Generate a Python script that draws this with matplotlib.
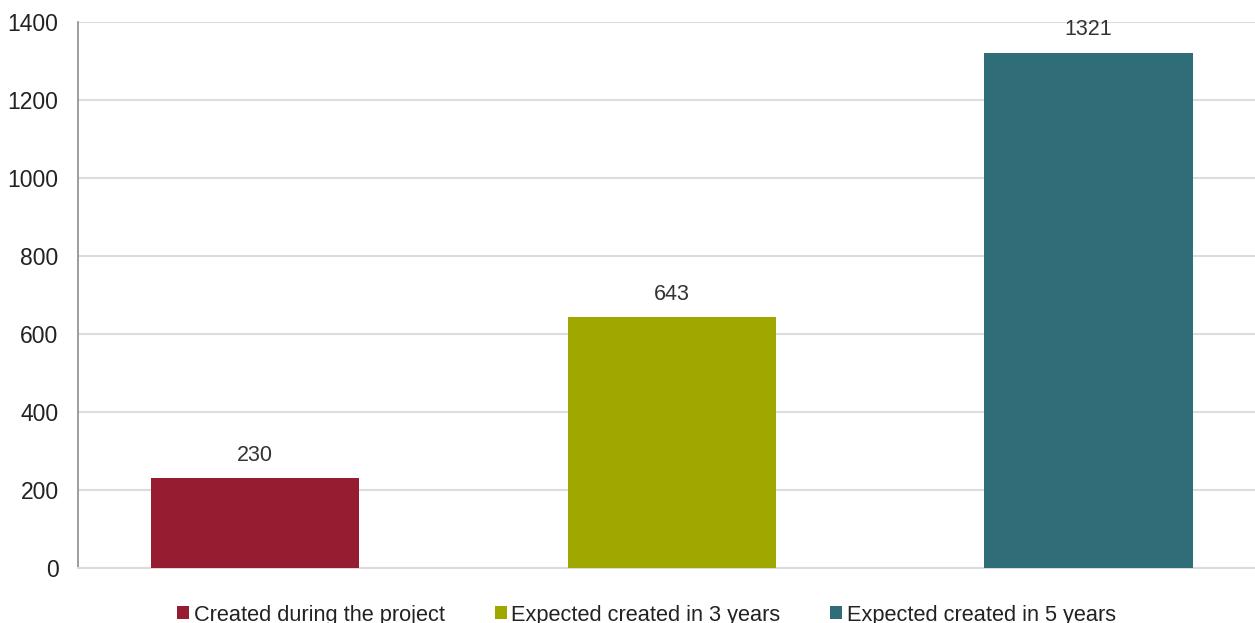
import matplotlib.pyplot as plt

plt.rcParams['font.family'] = ['Liberation Sans', 'DejaVu Sans']

# jobs created, per period
labels = ['Created during the project', 'Expected created in 3 years', 'Expected created in 5 years']
values = [230, 643, 1321]
colors = ['#961C31', '#A0A800', '#2F6E78']
yticks = [0, 200, 400, 600, 800, 1000, 1200, 1400]

fig = plt.figure(figsize=(12.55, 6.23), dpi=100)
ax = fig.add_axes([78/1255, 55/623, 1 - 78/1255, (568-22)/623])

for i, (lab, v, c) in enumerate(zip(labels, values, colors)):
    ax.bar(i, v, width=0.5, color=c, label=lab, zorder=3)
    ax.annotate(str(v), (i, v), xytext=(0, 9), textcoords='offset points',
                ha='center', va='bottom', fontsize=15.5, color='#333333')

ax.set_xlim(-0.425, 2.4)
ax.set_ylim(0, 1400)
ax.set_yticks(yticks)
ax.set_xticks([])
ax.tick_params(axis='y', length=0, pad=14, labelsize=16.5, labelcolor='#222222')
ax.yaxis.grid(True, color='#DCDCDC', linewidth=1.5, zorder=0)

for s in ['top', 'right']:
    ax.spines[s].set_visible(False)
ax.spines['left'].set_color('#8C8C8C')
ax.spines['left'].set_linewidth(1.2)
ax.spines['bottom'].set_color('#DCDCDC')
ax.spines['bottom'].set_linewidth(1.5)

fig.legend(loc='center', bbox_to_anchor=(646.5/1255, 1 - 615/623), ncol=3,
           frameon=False, fontsize=15.7, handlelength=0.55, handleheight=0.55,
           handletextpad=0.2, columnspacing=2.3, labelcolor='#222222')

fig.savefig('out.png', dpi=100)
